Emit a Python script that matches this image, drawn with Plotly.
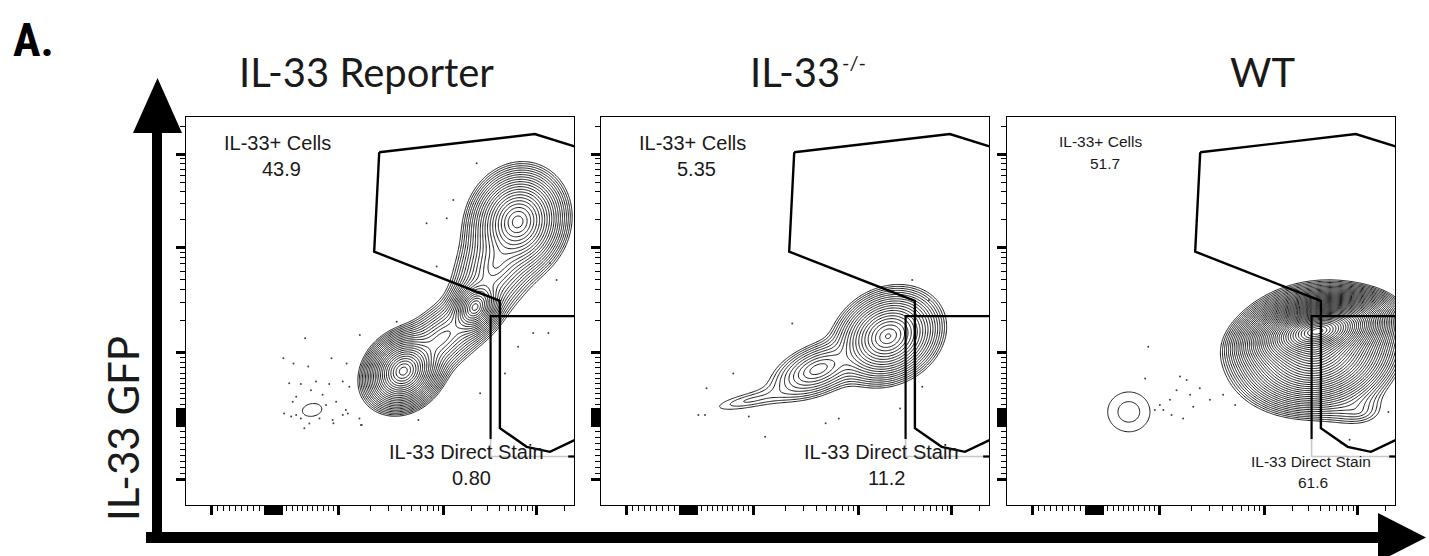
import numpy as np
import plotly.graph_objects as go

# ---------------------------------------------------------------------------
# Panel titles and gate statistics
# ---------------------------------------------------------------------------
panel_titles = ["IL-33 Reporter", "IL-33", "WT"]
title_sup = ["", "-/-", ""]
gate_pos_name = "IL-33+ Cells"
gate_stain_name = "IL-33 Direct Stain"
pct_pos = ["43.9", "5.35", "51.7"]
pct_stain = ["0.80", "11.2", "61.6"]

# ---------------------------------------------------------------------------
# Population components (display units, 0-1 on both biexponential axes)
# centre x, centre y, spread along / across the main axis, angle (deg), weight
# ---------------------------------------------------------------------------
reporter_cx = [0.560, 0.745, 0.855, 0.660, 0.800, 0.325]
reporter_cy = [0.345, 0.510, 0.730, 0.430, 0.620, 0.245]
reporter_sa = [0.036, 0.030, 0.048, 0.070, 0.070, 0.070]
reporter_sb = [0.030, 0.022, 0.042, 0.036, 0.042, 0.045]
reporter_ang = [45, 60, 70, 40, 62, 10]
reporter_w = [1.00, 0.45, 0.60, 0.06, 0.08, 0.004]

knockout_cx = [0.740, 0.560, 0.385]
knockout_cy = [0.435, 0.350, 0.270]
knockout_sa = [0.045, 0.060, 0.110]
knockout_sb = [0.036, 0.030, 0.022]
knockout_ang = [28, 22, 12]
knockout_w = [1.00, 0.06, 0.006]

wt_cx = [0.800, 0.795, 0.905, 0.314]
wt_cy = [0.448, 0.400, 0.240, 0.240]
wt_sa = [0.056, 0.075, 0.075, 0.140]
wt_sb = [0.026, 0.056, 0.042, 0.132]
wt_ang = [12, 10, 0, 0]
wt_w = [1.00, 0.15, 0.0015, 0.00138]

# Outlier events drawn as dots
reporter_dot_x = [0.266, 0.296, 0.335, 0.369, 0.404, 0.421, 0.284, 0.275, 0.253, 0.271,
                  0.284, 0.296, 0.305, 0.318, 0.344, 0.361, 0.387, 0.412, 0.417, 0.378,
                  0.404, 0.447, 0.451, 0.322, 0.352, 0.307, 0.251, 0.277, 0.315, 0.375,
                  0.414, 0.453, 0.380, 0.599, 0.448, 0.543, 0.620, 0.672, 0.749, 0.938,
                  0.955, 0.934, 0.895, 0.758, 0.822, 0.856, 0.646, 0.689]
reporter_dot_y = [0.314, 0.312, 0.318, 0.312, 0.318, 0.305, 0.279, 0.266, 0.236, 0.228,
                  0.232, 0.223, 0.198, 0.210, 0.223, 0.258, 0.266, 0.245, 0.236, 0.219,
                  0.232, 0.223, 0.206, 0.296, 0.284, 0.430, 0.378, 0.365, 0.357, 0.378,
                  0.365, 0.206, 0.211, 0.219, 0.438, 0.472, 0.726, 0.739, 0.881, 0.623,
                  0.580, 0.443, 0.443, 0.288, 0.339, 0.408, 0.615, 0.786]

knockout_dot_x = [0.341, 0.272, 0.268, 0.251, 0.423, 0.579, 0.613, 0.771, 0.828, 0.845,
                  0.802, 0.493, 0.381]
knockout_dot_y = [0.339, 0.301, 0.232, 0.232, 0.176, 0.211, 0.223, 0.249, 0.305, 0.528,
                  0.580, 0.468, 0.228]

wt_dot_x = [0.364, 0.356, 0.446, 0.463, 0.437, 0.472, 0.497, 0.420, 0.394, 0.381,
            0.403, 0.424, 0.454, 0.480, 0.523, 0.557, 0.588, 0.983, 0.883, 0.862]
wt_dot_y = [0.408, 0.326, 0.331, 0.322, 0.296, 0.284, 0.301, 0.271, 0.258, 0.245,
            0.245, 0.232, 0.223, 0.253, 0.271, 0.284, 0.258, 0.240, 0.168, 0.159]

# Gates (shared by all three samples)
gate_poly_x = [0.498, 0.899, 1.060, 1.060, 0.938, 0.878, 0.809, 0.809, 0.485, 0.498]
gate_poly_y = [0.909, 0.956, 0.906, 0.195, 0.137, 0.150, 0.198, 0.526, 0.653, 0.909]
rect_gate_x = [0.785, 0.785, 1.060]
rect_gate_y = [0.170, 0.487, 0.487]
rect_low_x = [0.785, 0.785, 1.000]
rect_low_y = [0.170, 0.125, 0.125]

# Biexponential tick layout (display units)
decade_major = [0.066, 0.393, 0.663, 0.903]
zero_cluster = [0.205, 0.211, 0.217, 0.223, 0.229, 0.235, 0.241, 0.247]


def minor_ticks():
    vals = list(np.linspace(0.066, 0.205, 10)[1:-1])
    vals += list(np.linspace(0.247, 0.393, 12)[1:-1])
    k = np.arange(2, 10)
    vals += list(0.393 + 0.27 * np.log10(k))
    vals += list(0.663 + 0.24 * np.log10(k))
    vals += [0.903 + 0.24 * np.log10(2)]
    return vals


def density(X, Y, cx, cy, sa, sb, ang, w):
    D = np.zeros_like(X)
    for x0, y0, a, b, t, wt in zip(cx, cy, sa, sb, ang, w):
        th = np.radians(t)
        u = (X - x0) * np.cos(th) + (Y - y0) * np.sin(th)
        v = -(X - x0) * np.sin(th) + (Y - y0) * np.cos(th)
        r2 = (u / a) ** 2 + (v / b) ** 2
        D += wt * np.exp(-r2 ** 0.7)
    return np.log10(D / D.max() + 1e-12)


gx = np.linspace(0, 1.02, 360)
gy = np.linspace(0, 1.02, 360)
GX, GY = np.meshgrid(gx, gy)

panels = [
    dict(comp=(reporter_cx, reporter_cy, reporter_sa, reporter_sb, reporter_ang, reporter_w),
         dots=(reporter_dot_x, reporter_dot_y), start=-2.5, size=0.11, lab=20),
    dict(comp=(knockout_cx, knockout_cy, knockout_sa, knockout_sb, knockout_ang, knockout_w),
         dots=(knockout_dot_x, knockout_dot_y), start=-2.5, size=0.13, lab=20),
    dict(comp=(wt_cx, wt_cy, wt_sa, wt_sb, wt_ang, wt_w),
         dots=(wt_dot_x, wt_dot_y), start=-3.0, size=0.07, lab=15.5),
]

W, H = 1429, 556
px_left = [186, 601, 1007]
px_w = 388
py_top, py_bot = 117, 505

fig = go.Figure()
label_font = "Liberation Sans, Arial, sans-serif"
title_font = "Lato, Roboto, sans-serif"

for i, p in enumerate(panels):
    xa = "x" if i == 0 else f"x{i + 1}"
    ya = "y" if i == 0 else f"y{i + 1}"
    Z = density(GX, GY, *p["comp"])
    fig.add_trace(go.Contour(
        x=gx, y=gy, z=Z, xaxis=xa, yaxis=ya,
        contours=dict(start=p["start"], end=-0.03, size=p["size"], coloring="none"),
        line=dict(color="black", width=0.9, smoothing=1),
        showscale=False, hoverinfo="skip"))
    fig.add_trace(go.Scatter(
        x=p["dots"][0], y=p["dots"][1], xaxis=xa, yaxis=ya, mode="markers",
        marker=dict(size=2.0, color="#444444"), hoverinfo="skip", showlegend=False))
    fig.add_trace(go.Scatter(
        x=gate_poly_x, y=gate_poly_y, xaxis=xa, yaxis=ya, mode="lines",
        line=dict(color="black", width=2.4), hoverinfo="skip", showlegend=False))
    fig.add_trace(go.Scatter(
        x=rect_low_x, y=rect_low_y, xaxis=xa, yaxis=ya, mode="lines",
        line=dict(color="#c8c8c8", width=1.6), hoverinfo="skip", showlegend=False))
    fig.add_trace(go.Scatter(
        x=rect_gate_x, y=rect_gate_y, xaxis=xa, yaxis=ya, mode="lines",
        line=dict(color="black", width=2.2), hoverinfo="skip", showlegend=False))
    fig.add_trace(go.Scatter(
        x=[0.985, 1.0], y=[0.125, 0.125], xaxis=xa, yaxis=ya, mode="lines",
        line=dict(color="black", width=2.2), hoverinfo="skip", showlegend=False))

    x0 = px_left[i] / W
    x1 = (px_left[i] + px_w) / W
    axis_common = dict(
        range=[0, 1], showline=True, linecolor="black", linewidth=1, mirror=True,
        ticks="outside", tickvals=decade_major + zero_cluster, ticklen=9, tickwidth=2.5,
        tickcolor="black", showticklabels=False, showgrid=False, zeroline=False,
        minor=dict(tickvals=minor_ticks(), ticklen=5, tickwidth=1, tickcolor="black",
                   ticks="outside", showgrid=False),
        fixedrange=True)
    fig.layout[f"xaxis{'' if i == 0 else i + 1}"] = dict(
        domain=[x0, x1], anchor=ya, **axis_common)
    fig.layout[f"yaxis{'' if i == 0 else i + 1}"] = dict(
        domain=[1 - py_bot / H, 1 - py_top / H], anchor=xa, **axis_common)

    # gate statistics
    if i < 2:
        pos_xy = (0.237, 0.933, 0.866)
        st_xy = (0.724, 0.137, 0.737, 0.070)
    else:
        pos_xy = (0.242, 0.936, 0.881)
        st_xy = (0.784, 0.113, 0.789, 0.059)
    for txt, xx, yy in [(gate_pos_name, pos_xy[0], pos_xy[1]),
                        (pct_pos[i], pos_xy[0] + 0.01, pos_xy[2]),
                        (gate_stain_name, st_xy[0], st_xy[1]),
                        (pct_stain[i], st_xy[2], st_xy[3])]:
        fig.add_annotation(x=xx, y=yy, xref=xa, yref=ya, text=txt, showarrow=False,
                           xanchor="center", yanchor="middle",
                           font=dict(family=label_font, size=p["lab"], color="#1a1a1a"))

# panel titles (genotype superscript set as a small raised label)
title_x = [(237, None), (748, 840), (1228, None)]
for t, s, (xl, xs) in zip(panel_titles, title_sup, title_x):
    fig.add_annotation(x=xl / W, y=1 - 72 / H, xref="paper", yref="paper", text=t,
                       showarrow=False, xanchor="left", yanchor="middle",
                       font=dict(family=title_font, size=40, color="#1a1a1a"))
    if s:
        fig.add_annotation(x=xs / W, y=1 - 62 / H, xref="paper", yref="paper", text=s,
                           showarrow=False, xanchor="left", yanchor="middle",
                           font=dict(family=title_font, size=20, color="#1a1a1a"))

# panel letter
fig.add_annotation(x=33 / W, y=1 - 40 / H, xref="paper", yref="paper", text="<b>A.</b>",
                   showarrow=False, xanchor="center", yanchor="middle",
                   font=dict(family="Roboto Condensed, DejaVu Sans Condensed, Roboto",
                             size=46, color="black"))

# y-axis label
fig.add_annotation(x=123 / W, y=1 - 429 / H, xref="paper", yref="paper", text="IL-33 GFP",
                   textangle=-90, showarrow=False, xanchor="center", yanchor="middle",
                   font=dict(family=title_font, size=42, color="#1a1a1a"))


# axis arrows
def P(x, y):
    return f"{x / W:.5f},{1 - y / H:.5f}"


shapes = [
    dict(type="rect", xref="paper", yref="paper", x0=152 / W, x1=162 / W,
         y0=1 - 543 / H, y1=1 - 130 / H, fillcolor="black", line=dict(width=0)),
    dict(type="path", xref="paper", yref="paper",
         path=f"M{P(133, 133)} L{P(182, 133)} L{P(157.5, 78)} Z",
         fillcolor="black", line=dict(width=0)),
    dict(type="rect", xref="paper", yref="paper", x0=146 / W, x1=1381 / W,
         y0=1 - 543 / H, y1=1 - 532 / H, fillcolor="black", line=dict(width=0)),
    dict(type="path", xref="paper", yref="paper",
         path=f"M{P(1378, 513)} L{P(1378, 562)} L{P(1426, 537.5)} Z",
         fillcolor="black", line=dict(width=0)),
]

fig.update_layout(width=W, height=H, margin=dict(l=0, r=0, t=0, b=0),
                  paper_bgcolor="white", plot_bgcolor="white", showlegend=False,
                  shapes=shapes)

fig.write_html("out.html")
